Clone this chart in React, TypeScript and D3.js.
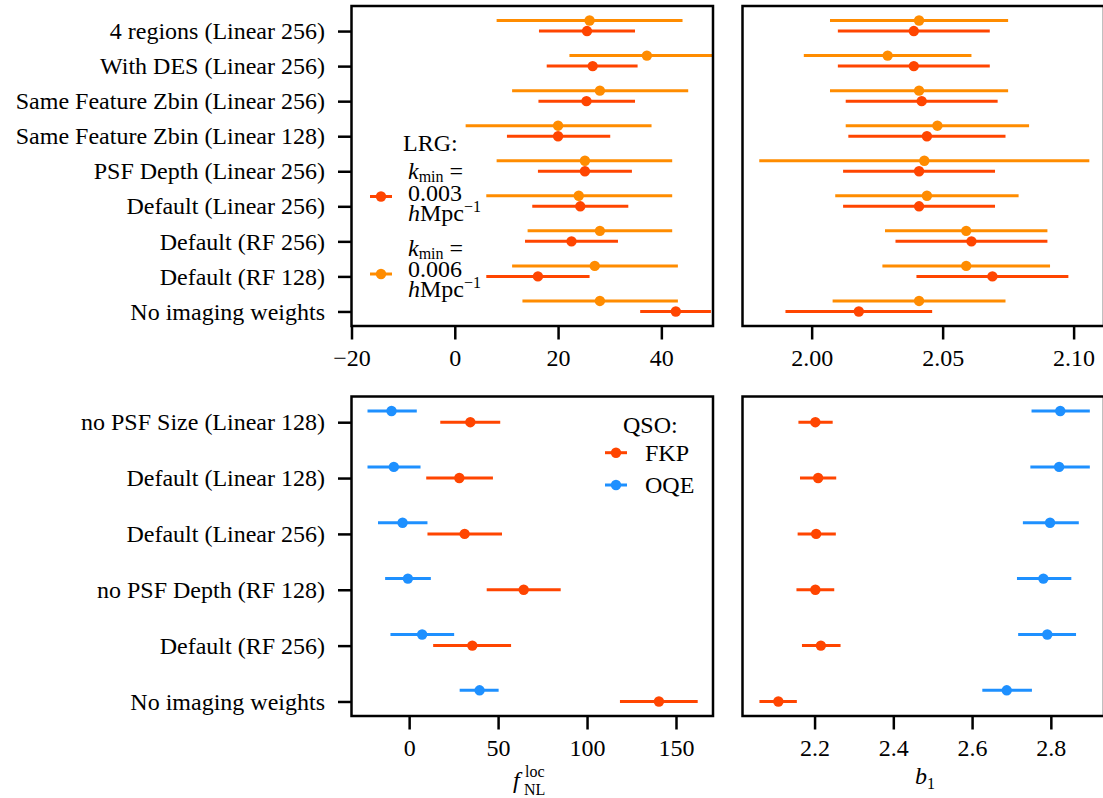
import React, { useEffect, useRef } from "react";
import * as d3 from "d3";

// ---------------- data ----------------
const lrgLabels = [
  "4 regions (Linear 256)",
  "With DES (Linear 256)",
  "Same Feature Zbin (Linear 256)",
  "Same Feature Zbin (Linear 128)",
  "PSF Depth (Linear 256)",
  "Default (Linear 256)",
  "Default (RF 256)",
  "Default (RF 128)",
  "No imaging weights",
];

// LRG fNL, kmin = 0.003
const lrgFnlK3 = [25.6, 26.7, 25.5, 20.0, 25.2, 24.3, 22.6, 16.1, 42.8];
const lrgFnlK3Lo = [16.3, 17.8, 16.2, 10.1, 16.1, 15.0, 13.6, 6.1, 35.9];
const lrgFnlK3Hi = [34.9, 35.4, 34.9, 30.1, 34.3, 33.6, 31.6, 26.1, 49.6];
// LRG fNL, kmin = 0.006
const lrgFnlK6 = [26.1, 37.2, 28.1, 20.0, 25.2, 24.0, 28.1, 27.1, 28.1];
const lrgFnlK6Lo = [8.1, 22.2, 11.1, 2.1, 8.1, 6.1, 14.1, 11.1, 13.1];
const lrgFnlK6Hi = [44.1, 52.0, 45.2, 38.1, 42.1, 42.1, 42.1, 43.2, 43.2];
// LRG b1, kmin = 0.003
const lrgB1K3 = [2.039, 2.039, 2.042, 2.044, 2.041, 2.041, 2.061, 2.069, 2.018];
const lrgB1K3Lo = [2.010, 2.010, 2.013, 2.014, 2.012, 2.012, 2.032, 2.040, 1.990];
const lrgB1K3Hi = [2.068, 2.068, 2.071, 2.074, 2.070, 2.070, 2.090, 2.098, 2.046];
// LRG b1, kmin = 0.006
const lrgB1K6 = [2.041, 2.029, 2.041, 2.048, 2.043, 2.044, 2.059, 2.059, 2.041];
const lrgB1K6Lo = [2.007, 1.997, 2.007, 2.013, 1.980, 2.009, 2.028, 2.027, 2.008];
const lrgB1K6Hi = [2.075, 2.061, 2.075, 2.083, 2.106, 2.079, 2.090, 2.091, 2.074];

const qsoLabels = [
  "no PSF Size (Linear 128)",
  "Default (Linear 128)",
  "Default (Linear 256)",
  "no PSF Depth (RF 128)",
  "Default (RF 256)",
  "No imaging weights",
];
// QSO fNL
const qsoFnlFkp = [34.4, 28.2, 31.2, 64.4, 35.5, 140.4];
const qsoFnlFkpLo = [17.5, 9.6, 10.3, 43.6, 13.5, 118.5];
const qsoFnlFkpHi = [51.2, 47.1, 52.2, 85.2, 57.3, 162.2];
const qsoFnlOqe = [-9.9, -8.6, -3.7, -0.7, 7.3, 39.6];
const qsoFnlOqeLo = [-23.4, -23.4, -17.5, -13.5, -10.5, 28.4];
const qsoFnlOqeHi = [4.3, 6.4, 10.3, 12.2, 25.3, 50.3];
// QSO b1
const qsoB1Fkp = [2.202, 2.209, 2.204, 2.202, 2.216, 2.108];
const qsoB1FkpLo = [2.159, 2.163, 2.157, 2.154, 2.168, 2.060];
const qsoB1FkpHi = [2.246, 2.255, 2.254, 2.250, 2.266, 2.155];
const qsoB1Oqe = [2.824, 2.821, 2.798, 2.781, 2.791, 2.688];
const qsoB1OqeLo = [2.751, 2.748, 2.729, 2.714, 2.717, 2.626];
const qsoB1OqeHi = [2.899, 2.899, 2.871, 2.852, 2.864, 2.752];

// axis ticks
const lrgFnlTicks = [-20, 0, 20, 40];
const lrgB1Ticks = [2.0, 2.05, 2.1];
const qsoFnlTicks = [0, 50, 100, 150];
const qsoB1Ticks = [2.2, 2.4, 2.6, 2.8];

// ---------------- style ----------------
const W = 1103;
const H = 798;
const RED = "#ff4500";
const ORANGE = "#ff8c00";
const BLUE = "#1e90ff";
const FONT = "'Liberation Serif', 'Times New Roman', serif";
const FS = 24;
const SUB = 16;

type Series = { c: number[]; lo: number[]; hi: number[]; color: string; offset: number };
type Box = { x0: number; x1: number; y0: number; y1: number };

function drawPanel(
  svg: d3.Selection<SVGSVGElement, unknown, null, undefined>,
  id: string,
  box: Box,
  xDomain: [number, number],
  yDomain: [number, number],
  xTicks: number[],
  xFmt: (v: number) => string,
  series: Series[],
  labels: string[] | null
) {
  const x = d3.scaleLinear().domain(xDomain).range([box.x0, box.x1]);
  const y = d3.scaleLinear().domain(yDomain).range([box.y1, box.y0]);
  const n = series[0].c.length;

  svg
    .append("clipPath")
    .attr("id", id)
    .append("rect")
    .attr("x", box.x0)
    .attr("y", box.y0)
    .attr("width", box.x1 - box.x0)
    .attr("height", box.y1 - box.y0);

  const g = svg.append("g").attr("clip-path", `url(#${id})`);
  const rows = d3.range(n);
  series.forEach((s) => {
    const yy = (i: number) => y(n - 1 - i + s.offset);
    g.append("g")
      .selectAll("line")
      .data(rows)
      .join("line")
      .attr("x1", (i) => x(s.lo[i]))
      .attr("x2", (i) => x(s.hi[i]))
      .attr("y1", yy)
      .attr("y2", yy)
      .attr("stroke", s.color)
      .attr("stroke-width", 3);
    g.append("g")
      .selectAll("circle")
      .data(rows)
      .join("circle")
      .attr("cx", (i) => x(s.c[i]))
      .attr("cy", yy)
      .attr("r", 5.2)
      .attr("fill", s.color);
  });

  const ax = svg
    .append("g")
    .attr("transform", `translate(0,${box.y1})`)
    .call(
      d3
        .axisBottom(x)
        .tickValues(xTicks)
        .tickFormat((v) => xFmt(v as number))
        .tickSize(13.5)
        .tickPadding(9)
    );
  ax.select(".domain").remove();
  ax.attr("font-family", FONT).attr("font-size", FS);
  ax.selectAll("line").attr("stroke", "#000").attr("stroke-width", 2.5);
  ax.selectAll("text").attr("fill", "#000");

  if (labels) {
    const ay = svg
      .append("g")
      .attr("transform", `translate(${box.x0},0)`)
      .call(
        d3
          .axisLeft(y)
          .tickValues(d3.range(n))
          .tickFormat((v) => labels[n - 1 - (v as number)])
          .tickSize(13.5)
          .tickPadding(13)
      );
    ay.select(".domain").remove();
    ay.attr("font-family", FONT).attr("font-size", FS);
    ay.selectAll("line").attr("stroke", "#000").attr("stroke-width", 2.5);
    ay.selectAll("text").attr("fill", "#000");
  }

  svg
    .append("rect")
    .attr("x", box.x0)
    .attr("y", box.y0)
    .attr("width", box.x1 - box.x0)
    .attr("height", box.y1 - box.y0)
    .attr("fill", "none")
    .attr("stroke", "#000")
    .attr("stroke-width", 2.5);
}

function legendMarker(
  svg: d3.Selection<SVGSVGElement, unknown, null, undefined>,
  cx: number,
  cy: number,
  color: string
) {
  svg
    .append("line")
    .attr("x1", cx - 11)
    .attr("x2", cx + 11)
    .attr("y1", cy)
    .attr("y2", cy)
    .attr("stroke", color)
    .attr("stroke-width", 3);
  svg.append("circle").attr("cx", cx).attr("cy", cy).attr("r", 5.2).attr("fill", color);
}

export default function App() {
  const ref = useRef<SVGSVGElement>(null);

  useEffect(() => {
    if (!ref.current) return;
    const svg = d3.select(ref.current);
    svg.selectAll("*").remove();

    const left = { x0: 351.5, x1: 713 };
    const right = { x0: 742.5, x1: 1104 };
    const top = { y0: 6, y1: 326 };
    const bottom = { y0: 396.5, y1: 716 };

    const fmt0 = d3.format("d");
    const fmt2 = d3.format(".2f");
    const fmt1 = d3.format(".1f");

    drawPanel(
      svg,
      "clipTL",
      { ...left, ...top },
      [-20, 50],
      [-0.415, 8.715],
      lrgFnlTicks,
      fmt0,
      [
        { c: lrgFnlK3, lo: lrgFnlK3Lo, hi: lrgFnlK3Hi, color: RED, offset: 0 },
        { c: lrgFnlK6, lo: lrgFnlK6Lo, hi: lrgFnlK6Hi, color: ORANGE, offset: 0.3 },
      ],
      lrgLabels
    );
    drawPanel(
      svg,
      "clipTR",
      { ...right, ...top },
      [1.9736, 2.1116],
      [-0.415, 8.715],
      lrgB1Ticks,
      fmt2,
      [
        { c: lrgB1K3, lo: lrgB1K3Lo, hi: lrgB1K3Hi, color: RED, offset: 0 },
        { c: lrgB1K6, lo: lrgB1K6Lo, hi: lrgB1K6Hi, color: ORANGE, offset: 0.3 },
      ],
      null
    );
    drawPanel(
      svg,
      "clipBL",
      { ...left, ...bottom },
      [-32.4, 170.8],
      [-0.26, 5.46],
      qsoFnlTicks,
      fmt0,
      [
        { c: qsoFnlFkp, lo: qsoFnlFkpLo, hi: qsoFnlFkpHi, color: RED, offset: 0 },
        { c: qsoFnlOqe, lo: qsoFnlOqeLo, hi: qsoFnlOqeHi, color: BLUE, offset: 0.2 },
      ],
      qsoLabels
    );
    drawPanel(
      svg,
      "clipBR",
      { ...right, ...bottom },
      [2.017, 2.935],
      [-0.26, 5.46],
      qsoB1Ticks,
      fmt1,
      [
        { c: qsoB1Fkp, lo: qsoB1FkpLo, hi: qsoB1FkpHi, color: RED, offset: 0 },
        { c: qsoB1Oqe, lo: qsoB1OqeLo, hi: qsoB1OqeHi, color: BLUE, offset: 0.2 },
      ],
      null
    );

    const txt = (x: number, y: number, s: string, size = FS, italic = false) =>
      svg
        .append("text")
        .attr("x", x)
        .attr("y", y)
        .attr("font-family", FONT)
        .attr("font-size", size)
        .attr("font-style", italic ? "italic" : "normal")
        .attr("fill", "#000")
        .text(s);

    // LRG legend
    txt(403, 151, "LRG:");
    const kminEntry = (yBase: number, value: string, color: string, markerY: number) => {
      const t1 = svg
        .append("text")
        .attr("x", 408)
        .attr("y", yBase)
        .attr("font-family", FONT)
        .attr("font-size", FS)
        .attr("fill", "#000");
      t1.append("tspan").attr("font-style", "italic").text("k");
      t1.append("tspan").attr("font-size", SUB).attr("dy", 3).text("min");
      t1.append("tspan").attr("dy", -3).text(" =");
      txt(408, yBase + 21.5, value);
      const t3 = svg
        .append("text")
        .attr("x", 408)
        .attr("y", yBase + 41.5)
        .attr("font-family", FONT)
        .attr("font-size", FS)
        .attr("fill", "#000");
      t3.append("tspan").attr("font-style", "italic").text("h");
      t3.append("tspan").text("Mpc");
      t3.append("tspan").attr("font-size", SUB).attr("dy", -9).text("\u22121");
      legendMarker(svg, 381, markerY, color);
    };
    kminEntry(179, "0.003", RED, 196.5);
    kminEntry(255.5, "0.006", ORANGE, 274);

    // QSO legend
    txt(623, 433, "QSO:");
    legendMarker(svg, 616, 452.7, RED);
    txt(645, 461, "FKP");
    legendMarker(svg, 616, 485, BLUE);
    txt(645, 493, "OQE");

    // x-axis labels
    txt(513, 788, "f", FS, true);
    txt(525, 777, "loc", SUB);
    txt(524, 795, "NL", SUB);
    txt(915, 784, "b", FS, true);
    txt(927, 789, "1", SUB);
  }, []);

  return (
    <svg
      ref={ref}
      width={W}
      height={H}
      style={{ position: "absolute", left: 0, top: 0, display: "block", background: "#fff" }}
    />
  );
}
